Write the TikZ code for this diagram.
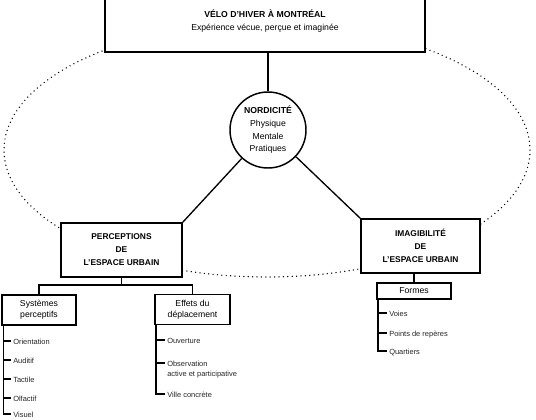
\documentclass[tikz,border=0pt]{standalone}
\usepackage{fontspec}
\setmainfont{Liberation Sans}

\begin{document}
\begin{tikzpicture}[x=0.75pt,y=-0.75pt,
    bloc/.style ={draw, fill=white, line width=1.1pt, align=center, inner sep=0pt},
    titre/.style ={bloc, font=\fontsize{6.3}{9.7}\selectfont\bfseries},
    sous/.style ={bloc, font=\fontsize{6.5}{8.3}\selectfont},
    item/.style ={anchor=mid west, inner xsep=1.5pt, inner ysep=0pt, font=\fontsize{5.6}{7}\selectfont, text=black!85},
    lien/.style ={line width=1pt}]
   \useasboundingbox (0,0) rectangle (536,419);
   % zone en pointille
   \draw[line width=1.1pt, line cap=round, dash pattern=on 0pt off 3.3pt] (267,150) ellipse [x radius=197.25pt, y radius=95.25pt];
   \node[bloc, minimum width=240pt, minimum height=45.75pt, font=\fontsize{6.5}{9.7}\selectfont] (velo) at (265,21.5)
      {{\bfseries VÉLO D'HIVER À MONTRÉAL}\\Expérience vécue, perçue et imaginée};
   \node[bloc, circle, minimum size=57pt, font=\fontsize{6.5}{9.5}\selectfont] (nord) at (268,130)
      {{\bfseries NORDICITÉ}\\Physique\\Mentale\\Pratiques};
   \node[titre, minimum width=90.75pt, minimum height=40.5pt] (percep) at (121.5,250) {PERCEPTIONS\\DE\\L'ESPACE URBAIN};
   \node[titre, minimum width=89.25pt, minimum height=40.5pt] (imag) at (420.5,246) {IMAGIBILITÉ\\DE\\L'ESPACE URBAIN};
   \node[sous, minimum width=55.5pt, minimum height=22.5pt] (syst) at (39,310) {Systèmes\\perceptifs};
   \node[sous, minimum width=56.25pt, minimum height=22.5pt] (effets) at (192.5,309.5) {Effets du\\déplacement};
   \node[sous, minimum width=55.5pt, minimum height=12pt] (formes) at (414,291) {Formes};
   \draw[lien] (nord.north |- velo.south) to (nord.north);
   \draw[lien] (nord) to (percep.north east);
   \draw[lien] (nord) to (imag.north west);
   \coordinate (pb) at (121.5,285);
   \draw[lien] (percep.south) to (pb);
   \draw[lien] (syst.north) |- (pb) -| (effets.north);
   \draw[lien] (imag.south -| formes.north) to (formes.north);
   % listes
   \node[item] (orient) at (11,341) {Orientation};
   \node[item] (audit) at (11,360) {Auditif};
   \node[item] (tact) at (11,379) {Tactile};
   \node[item] (olf) at (11,398) {Olfactif};
   \node[item] (visuel) at (11,414) {Visuel};
   \coordinate (sbar) at (3.5,325);
   \draw[lien] (sbar) |- (visuel.mid west);
   \foreach \n in {orient,audit,tact,olf}
      \draw[lien] (sbar |- \n.mid west) -- (\n.mid west);
   \node[item] (ouv) at (165,340) {Ouverture};
   \node[item] (obs) at (165,363) {Observation};
   \node[item] (obsb) at (165,373) {active et participative};
   \node[item] (ville) at (165,394) {Ville concrète};
   \coordinate (ebar) at (156,324);
   \draw[lien] (ebar) |- (ville.mid west);
   \foreach \n in {ouv,obs}
      \draw[lien] (ebar |- \n.mid west) -- (\n.mid west);
   \node[item] (voies) at (387,313) {Voies};
   \node[item] (points) at (387,333) {Points de repères};
   \node[item] (quart) at (387,351) {Quartiers};
   \coordinate (fbar) at (378,299);
   \draw[lien] (fbar) |- (quart.mid west);
   \foreach \n in {voies,points}
      \draw[lien] (fbar |- \n.mid west) -- (\n.mid west);
\end{tikzpicture}
\end{document}
